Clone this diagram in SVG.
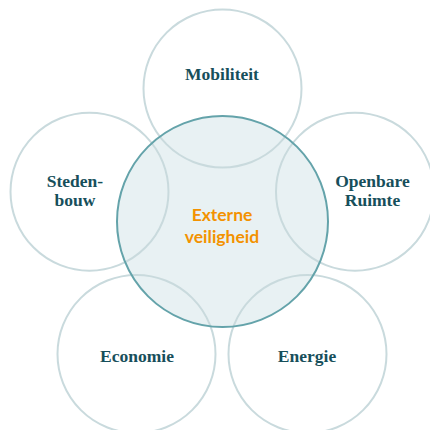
<svg xmlns="http://www.w3.org/2000/svg" width="430" height="430" viewBox="0 0 430 430">
<style>
.outer{fill:none;stroke:#c9dadd;stroke-width:2}
.lbl{font-family:"Liberation Serif","Times New Roman",serif;font-weight:bold;font-size:17.5px;fill:#174f5b;text-anchor:middle}
.ctr{font-family:Lato,"Noto Sans",sans-serif;font-weight:bold;font-size:17.5px;fill:#f39200;text-anchor:middle}
</style>
<rect width="430" height="430" fill="#ffffff"/>
<circle cx="222.5" cy="221.5" r="105.5" fill="#e8f1f3"/>
<g id="mobiliteit"><circle class="outer" cx="222.5" cy="88.5" r="79"/><text class="lbl" x="222" y="80">Mobiliteit</text></g>
<g id="stedenbouw"><circle class="outer" cx="89.5" cy="191.7" r="79"/><text class="lbl" x="75" y="187">Steden-</text><text class="lbl" x="75" y="206">bouw</text></g>
<g id="openbare-ruimte"><circle class="outer" cx="355" cy="191.7" r="79"/><text class="lbl" x="372.5" y="187">Openbare</text><text class="lbl" x="372.5" y="206">Ruimte</text></g>
<g id="economie"><circle class="outer" cx="136.5" cy="354" r="79"/><text class="lbl" x="137" y="361.5">Economie</text></g>
<g id="energie"><circle class="outer" cx="307.5" cy="354" r="79"/><text class="lbl" x="307" y="361.5">Energie</text></g>
<g id="externe-veiligheid"><circle cx="222.5" cy="221.5" r="105.5" fill="none" stroke="#64a3aa" stroke-width="2"/><text class="ctr" x="222" y="220.7">Externe</text><text class="ctr" x="222" y="242.7">veiligheid</text></g>
<g id="connectors"></g>
</svg>
